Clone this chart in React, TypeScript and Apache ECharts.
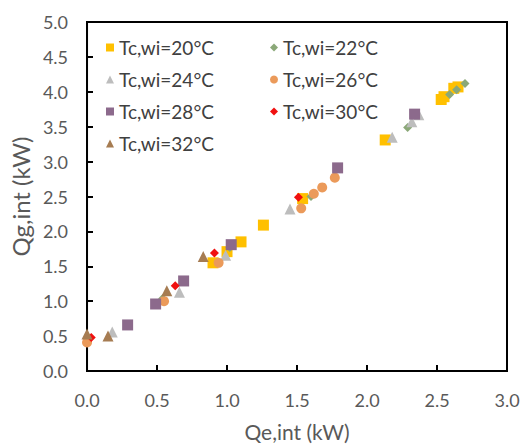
import React, { useEffect, useRef } from "react";
import * as echarts from "echarts";

const xTicks = [0, 0.5, 1.0, 1.5, 2.0, 2.5, 3.0];
const yTicks = [0, 0.5, 1.0, 1.5, 2.0, 2.5, 3.0, 3.5, 4.0, 4.5, 5.0];

const s20: number[][] = [[0.90,1.55],[1.00,1.71],[1.10,1.85],[1.26,2.09],[1.54,2.47],[2.13,3.31],[2.53,3.89],[2.55,3.93],[2.62,4.05],[2.65,4.07]];
const s22: number[][] = [[0.54,1.04],[1.02,1.77],[1.60,2.50],[2.29,3.49],[2.59,3.96],[2.64,4.03],[2.70,4.12]];
const s24: number[][] = [[0.18,0.56],[0.66,1.13],[0.99,1.66],[1.45,2.32],[2.18,3.35],[2.32,3.57],[2.37,3.67]];
const s26: number[][] = [[0.00,0.41],[0.55,1.00],[0.94,1.55],[1.53,2.33],[1.62,2.54],[1.68,2.63],[1.77,2.77]];
const s28: number[][] = [[0.29,0.66],[0.49,0.96],[0.69,1.29],[1.03,1.81],[1.79,2.91],[2.34,3.68]];
const s30: number[][] = [[0.03,0.48],[0.63,1.22],[0.91,1.69],[1.51,2.49]];
const s32: number[][] = [[0.00,0.53],[0.15,0.50],[0.57,1.15],[0.83,1.64]];

const names = ["Tc,wi=20°C", "Tc,wi=22°C", "Tc,wi=24°C", "Tc,wi=26°C", "Tc,wi=28°C", "Tc,wi=30°C", "Tc,wi=32°C"];
const datasets = [s20, s22, s24, s26, s28, s30, s32];
const symbols = ["rect", "diamond", "triangle", "circle", "rect", "diamond", "triangle"];
const sizes = [11, 9, 11, 10, 11, 9, 11];
const colors = ["#FFC000", "#8BA878", "#BDBDBD", "#EB9A5A", "#8C6A8C", "#F01010", "#A67C52"];

const FONT = "Lato";

export default function App() {
  const ref = useRef<HTMLDivElement>(null);
  useEffect(() => {
    document.body.style.margin = "0";
    const chart = echarts.init(ref.current!, null, { renderer: "svg" });
    const legendText = { fontSize: 19, color: "#404040", fontFamily: FONT };
    chart.setOption({
      animation: false,
      backgroundColor: "#ffffff",
      grid: { left: 82, right: 20, top: 22, bottom: 76, show: true, borderColor: "#000", borderWidth: 2, backgroundColor: "transparent" },
      legend: [
        {
          data: [names[0], names[2], names[4], names[6]],
          orient: "vertical", left: 101, top: 33, itemWidth: 8, itemHeight: 8, itemGap: 13,
          textStyle: legendText, selectedMode: false,
        },
        {
          data: [names[1], names[3], names[5]],
          orient: "vertical", left: 265, top: 33, itemWidth: 8, itemHeight: 8, itemGap: 13,
          textStyle: legendText, selectedMode: false,
        },
      ],
      xAxis: {
        type: "value", min: xTicks[0], max: xTicks[xTicks.length - 1], interval: 0.5,
        name: "Qe,int (kW)", nameLocation: "middle", nameGap: 50,
        nameTextStyle: { fontSize: 21, color: "#595959", fontFamily: FONT },
        axisLine: { show: true, lineStyle: { color: "#000", width: 2 } },
        axisTick: { show: true, inside: true, length: 6, lineStyle: { color: "#000", width: 2 } },
        axisLabel: { margin: 20, fontSize: 18, color: "#595959", fontFamily: FONT, formatter: (v: number) => v.toFixed(1) },
        splitLine: { show: false },
      },
      yAxis: {
        type: "value", min: yTicks[0], max: yTicks[yTicks.length - 1], interval: 0.5,
        name: "Qg,int (kW)", nameLocation: "middle", nameGap: 48,
        nameTextStyle: { fontSize: 24, color: "#595959", fontFamily: FONT },
        axisLine: { show: true, lineStyle: { color: "#000", width: 2 } },
        axisTick: { show: true, inside: true, length: 6, lineStyle: { color: "#000", width: 2 } },
        axisLabel: { margin: 19, fontSize: 18, color: "#595959", fontFamily: FONT, formatter: (v: number) => v.toFixed(1) },
        splitLine: { show: false },
      },
      series: datasets.map((d, i) => ({
        name: names[i],
        type: "scatter",
        data: d,
        symbol: symbols[i],
        symbolSize: sizes[i],
        itemStyle: { color: colors[i], opacity: 1 },
      })),
    });
    return () => chart.dispose();
  }, []);
  return <div ref={ref} style={{ width: 527, height: 447 }} />;
}
